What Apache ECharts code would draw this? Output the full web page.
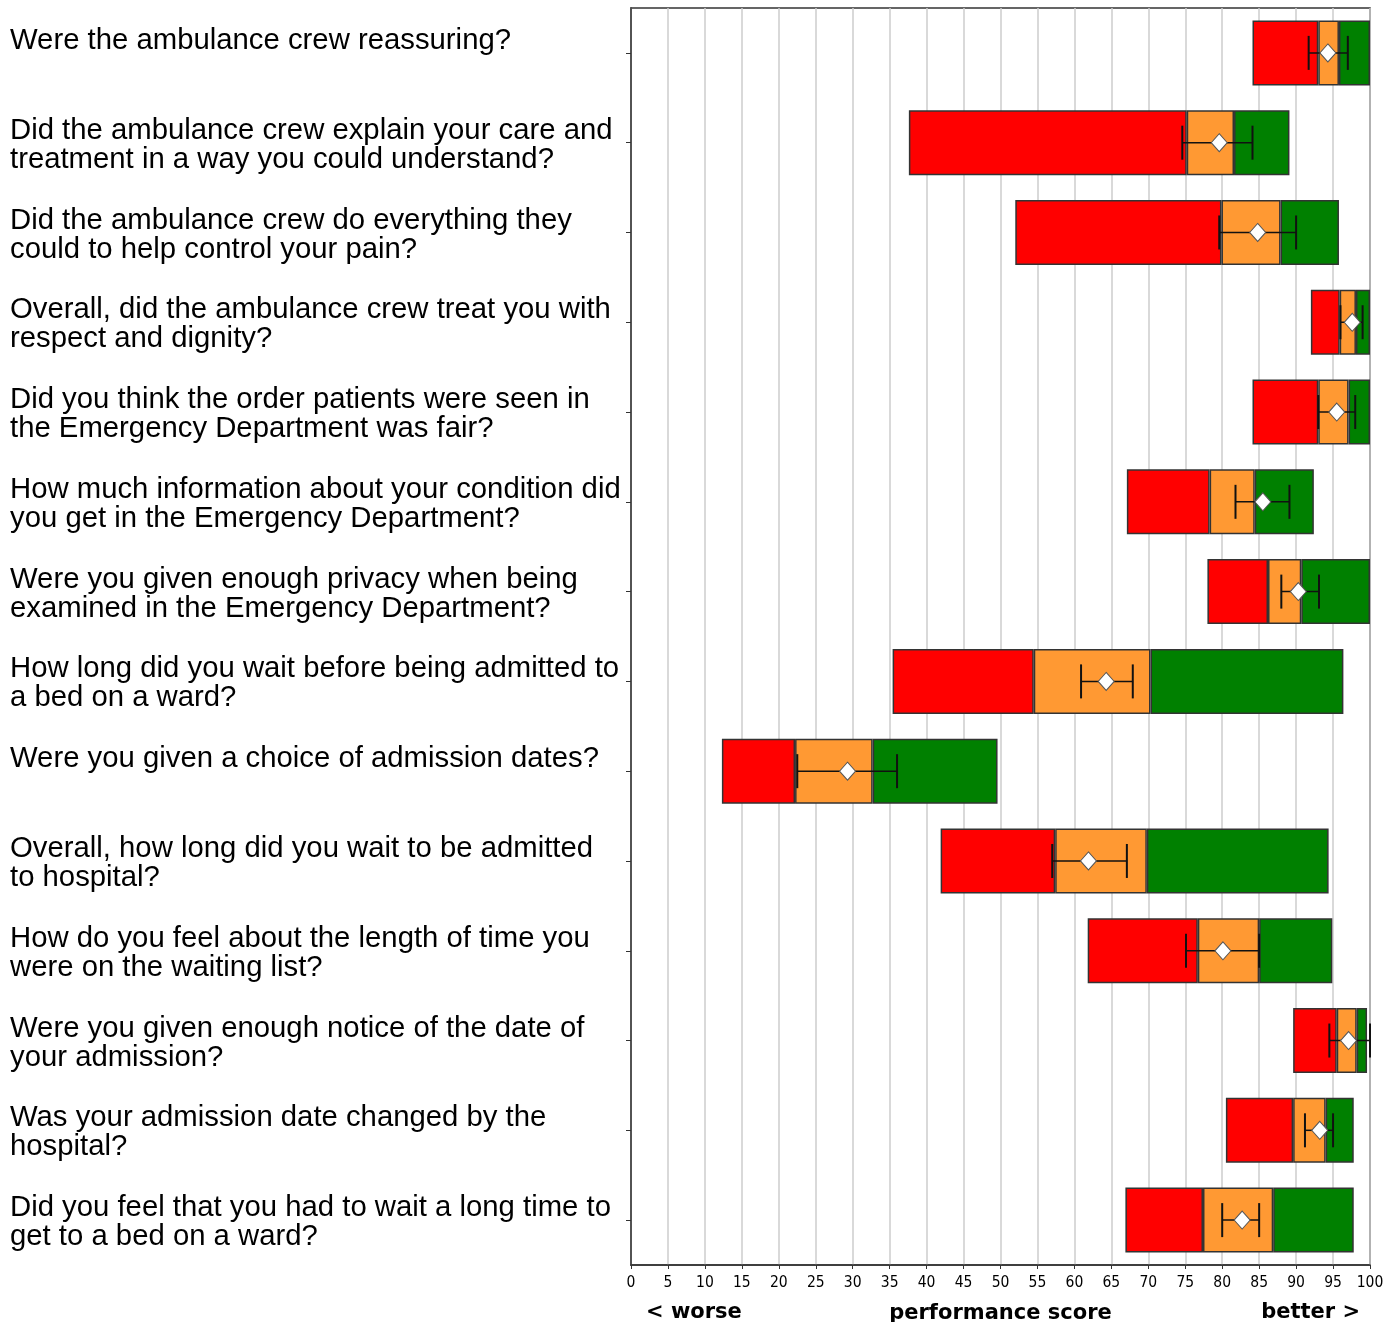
<!DOCTYPE html>
<html><head><meta charset="utf-8">
<script src="https://cdn.jsdelivr.net/npm/echarts@6/dist/echarts.min.js"></script>
<style>html,body{margin:0;padding:0;background:#fff;overflow:hidden;width:100%;height:100%}#c{width:100vw;height:100vh;position:absolute;left:0;top:0}</style>
</head><body><div id="c"></div>
<script>
const categories = [
  "Were the ambulance crew reassuring?\n\u00a0",
  "Did the ambulance crew explain your care and\ntreatment in a way you could understand?",
  "Did the ambulance crew do everything they\ncould to help control your pain?",
  "Overall, did the ambulance crew treat you with\nrespect and dignity?",
  "Did you think the order patients were seen in\nthe Emergency Department was fair?",
  "How much information about your condition did\nyou get in the Emergency Department?",
  "Were you given enough privacy when being\nexamined in the Emergency Department?",
  "How long did you wait before being admitted to\na bed on a ward?",
  "Were you given a choice of admission dates?\n\u00a0",
  "Overall, how long did you wait to be admitted\nto hospital?",
  "How do you feel about the length of time you\nwere on the waiting list?",
  "Were you given enough notice of the date of\nyour admission?",
  "Was your admission date changed by the\nhospital?",
  "Did you feel that you had to wait a long time to\nget to a bed on a ward?"
];
const lowerBound  = [84.1, 37.6, 52.0, 92.0, 84.1, 67.1, 78.0, 35.4, 12.3, 41.9, 61.8, 89.6, 80.5, 66.9];
const redOrange   = [93.0, 75.2, 79.9, 95.9, 93.0, 78.3, 86.2, 54.5, 22.2, 57.4, 76.7, 95.5, 89.6, 77.4];
const orangeGreen = [95.8, 81.6, 87.9, 98.1, 97.1, 84.4, 90.7, 70.3, 32.7, 69.8, 85.0, 98.2, 94.0, 86.9];
const upperBound  = [100, 89.1, 95.8, 100, 100, 92.4, 100, 96.4, 49.6, 94.4, 94.9, 99.6, 97.8, 97.8];
const score       = [94.3, 79.6, 84.8, 97.6, 95.5, 85.5, 90.3, 64.3, 29.3, 61.9, 80.1, 97.1, 93.2, 82.7];
const ciLow       = [91.7, 74.6, 79.6, 96.0, 93.0, 81.8, 88.0, 60.9, 22.5, 57.0, 75.1, 94.5, 91.2, 80.0];
const ciHigh      = [97.0, 84.1, 90.0, 99.0, 98.0, 89.1, 93.1, 67.9, 36.0, 67.1, 85.0, 100, 95.0, 85.0];

const border = {borderColor:'#333', borderWidth:1.5};
const r2 = v => Math.round(v*100)/100;
const baseData = lowerBound.slice();
const redData = redOrange.map((v,i)=>r2(v-lowerBound[i]));
const orangeData = orangeGreen.map((v,i)=>r2(v-redOrange[i]));
const greenData = upperBound.map((v,i)=>r2(v-orangeGreen[i]));

const chart = echarts.init(document.getElementById('c'), null, {renderer:'canvas'});
chart.setOption({
  animation:false,
  backgroundColor:'#fff',
  grid:{left:631, right:14, top:8, bottom:57, containLabel:false, outerBoundsMode:'none', show:true, borderColor:'#333', borderWidth:1.5, backgroundColor:'transparent'},
  xAxis:{
    type:'value', min:0, max:100, interval:5,
    axisLine:{show:true, lineStyle:{color:'#333', width:1.5}},
    axisTick:{show:true, length:4, lineStyle:{color:'#333', width:1}},
    splitLine:{show:true, lineStyle:{color:'#cccccc', width:1.5}},
    axisLabel:{fontSize:15.5, fontFamily:'Liberation Sans Narrow, DejaVu Sans Condensed, sans-serif', color:'#000', margin:10, showMinLabel:true, showMaxLabel:true},
    name:'performance score', nameLocation:'middle', nameGap:38,
    nameTextStyle:{fontFamily:'DejaVu Sans', fontWeight:'bold', fontSize:21, color:'#000'}
  },
  yAxis:{
    type:'category', inverse:true, data:categories,
    axisLine:{show:true, lineStyle:{color:'#333', width:1.5}},
    axisTick:{show:true, alignWithLabel:true, length:5, lineStyle:{color:'#333'}},
    splitLine:{show:false},
    axisLabel:{interval:0, align:'left', margin:621, fontSize:29.3, lineHeight:29, fontFamily:'Liberation Sans, Arial, sans-serif', color:'#000',
      formatter: v => '{s|\u00a0}\n' + v,
      rich:{s:{fontSize:1, lineHeight:5}}
    }
  },
  graphic:[
    {type:'text', left:646, top:1302, style:{text:'< worse', font:'bold 21px "DejaVu Sans"', fill:'#000'}},
    {type:'text', right:24, top:1302, style:{text:'better >', font:'bold 21px "DejaVu Sans"', fill:'#000'}}
  ],
  series:[
    {type:'bar', stack:'s', barWidth:65, data:baseData, itemStyle:{color:'transparent', borderWidth:0}, silent:true, z:2},
    {type:'bar', stack:'s', barWidth:65, data:redData, itemStyle:Object.assign({color:'#ff0000'}, border), z:2},
    {type:'bar', stack:'s', barWidth:65, data:orangeData, itemStyle:Object.assign({color:'#ff9933'}, border), z:2},
    {type:'bar', stack:'s', barWidth:65, data:greenData, itemStyle:Object.assign({color:'#008000'}, border), z:2},
    {
      type:'custom', z:3,
      data: ciLow.map((v,i)=>[v, ciHigh[i], i]),
      encode:{x:[0,1], y:2},
      renderItem:function(params, api){
        const y = api.value(2);
        const p1 = api.coord([api.value(0), y]);
        const p2 = api.coord([api.value(1), y]);
        const h = 17;
        return {type:'group', children:[
          {type:'line', shape:{x1:p1[0], y1:p1[1], x2:p2[0], y2:p2[1]}, style:{stroke:'#111', lineWidth:1.5}},
          {type:'line', shape:{x1:p1[0], y1:p1[1]-h, x2:p1[0], y2:p1[1]+h}, style:{stroke:'#111', lineWidth:2}},
          {type:'line', shape:{x1:p2[0], y1:p2[1]-h, x2:p2[0], y2:p2[1]+h}, style:{stroke:'#111', lineWidth:2}}
        ]};
      }
    },
    {
      type:'scatter', z:4, symbol:'diamond', symbolSize:[16,18],
      data: score.map((v,i)=>[v, i]),
      itemStyle:{color:'#fff', borderColor:'#555', borderWidth:1, opacity:1}
    }
  ]
});
</script>
</body></html>
